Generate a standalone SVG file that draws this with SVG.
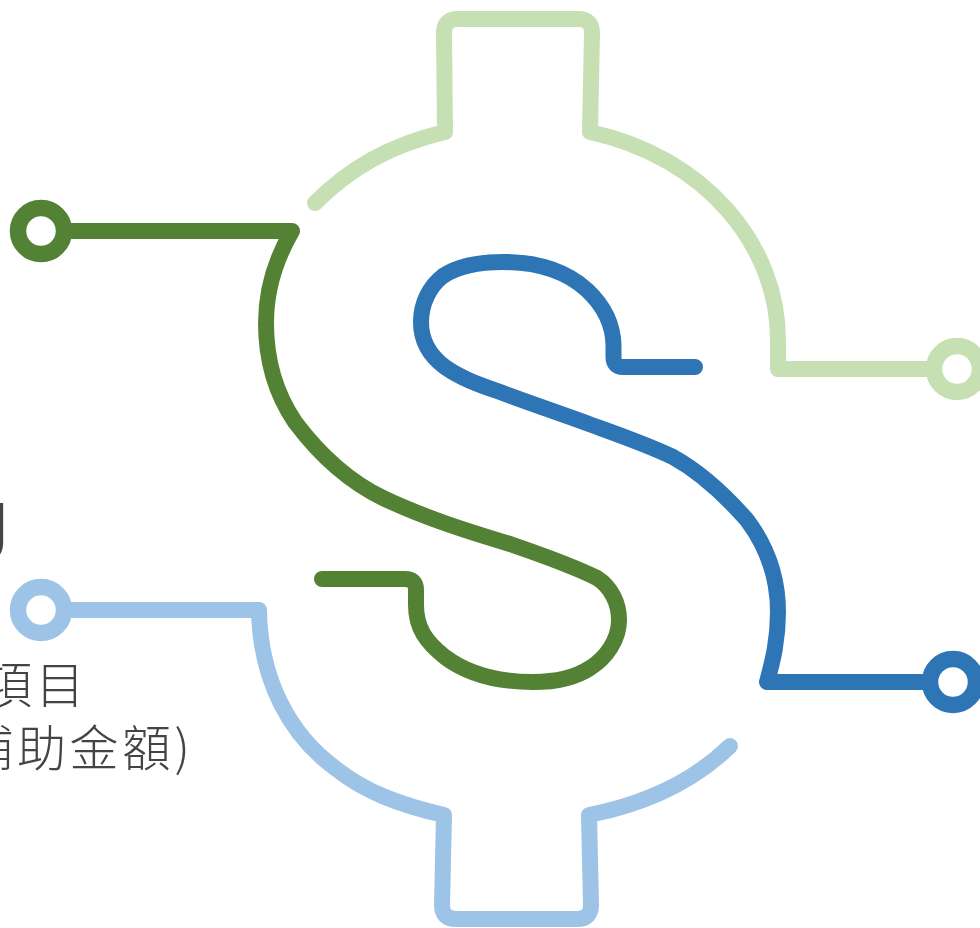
<svg xmlns="http://www.w3.org/2000/svg" width="980" height="928" viewBox="0 0 980 928">
<style>
.l{fill:none;stroke-width:16;stroke-linecap:round;stroke-linejoin:round}
.c{fill:#fff;stroke-width:16.5}
.t{font-family:"Noto Sans CJK TC","Noto Sans CJK SC",sans-serif;fill:#444;font-weight:300;font-size:49px;letter-spacing:3.5px}
.lg{stroke:#c6e0b4}.dg{stroke:#548235}.lb{stroke:#9dc3e6}.db{stroke:#2e75b6}
</style>
<g id="labels">
<text class="t" x="-17" y="703">項目</text>
<text class="t" x="-35.500" y="766">補助金額)</text>
<text class="t" x="-32.500" y="560" style="font-size:78px;font-weight:500;letter-spacing:0">J</text>
</g>
<g id="connectors">
<path class="l lg" d="M315 203C350 168 390 145 445 132L444 33Q444 19 458 19H578Q592 19 592 33L590 132C705 157 778 245 778 340V369H950"/>
<path class="l dg" d="M70 231H292C274 262 266 292 266 323C266 362 276 394 295 422C322 458 350 482 383 498C425 518 470 532 510 544C545 556 575 567 597 578C611 587 619 603 619 620C619 640 606 658 590 668C575 678 555 682 533 682C495 682 465 672 445 657C426 642 416 628 416 605V590Q416 579 405 579H322"/>
<path class="l db" d="M695 367H623Q613.500 367 613.500 357V345C613 322 603 305 587 290C565 270 535 262 503 262C478 262 458 266 443 276C430 286 421 303 421 322C421 342 430 356 445 367C462 379 480 385 500 392C535 405 568 416 600 428C625 437 650 446 673 457C700 472 725 495 747 520C768 548 778 578 778 612C778 640 773 660 767 682H925"/>
<path class="l lb" d="M70 610H259C260 680 290 735 335 768C365 792 400 805 444 815L442 905Q442 919 456 919H577Q591 919 591 905L589 815C650 803 695 780 730 746"/>
</g>
<g id="node-top-right"><circle class="c lg" cx="957" cy="369" r="23"/></g>
<g id="node-top-left"><circle class="c dg" cx="41" cy="231" r="23"/></g>
<g id="node-bottom-right"><circle class="c db" cx="953" cy="682" r="23"/></g>
<g id="node-bottom-left"><circle class="c lb" cx="41" cy="610" r="23"/></g>
</svg>
